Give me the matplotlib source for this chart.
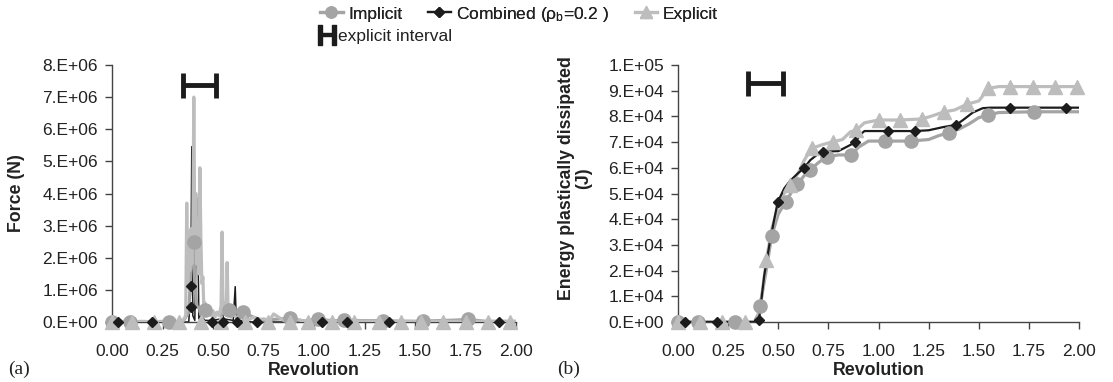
import matplotlib
matplotlib.use("Agg")
import matplotlib.pyplot as plt
from matplotlib.lines import Line2D

plt.rcParams['font.family'] = ['Liberation Sans', 'DejaVu Sans']
plt.rcParams['mathtext.fontset'] = 'custom'
plt.rcParams['mathtext.rm'] = 'Liberation Sans'
plt.rcParams['mathtext.it'] = 'Liberation Sans'
plt.rcParams['mathtext.bf'] = 'Liberation Sans:bold'

# ---------------- data (a): force, in 1e6 N ----------------
exp_f_x = [0.00, 0.05, 0.10, 0.15, 0.20, 0.25, 0.30, 0.35, 0.365, 0.37, 0.375, 0.38,
           0.385, 0.39, 0.395, 0.40, 0.405, 0.41, 0.415, 0.42, 0.425, 0.43, 0.435,
           0.44, 0.445, 0.45, 0.455, 0.46, 0.47, 0.48, 0.49, 0.50, 0.51, 0.52, 0.53,
           0.54, 0.545, 0.55, 0.56, 0.565, 0.57, 0.575, 0.58, 0.59, 0.60, 0.62, 0.65,
           0.68, 0.70, 0.72, 0.75, 0.78, 0.80, 0.85, 0.90, 0.95, 1.00, 1.10, 1.20,
           1.40, 1.60, 1.80, 2.00]
exp_f_y = [0.00, 0.02, 0.01, 0.02, 0.01, 0.02, 0.01, 0.03, 0.20, 3.70, 1.20, 2.80,
           1.60, 2.90, 1.80, 2.60, 7.00, 2.40, 4.00, 1.80, 2.60, 1.50, 4.80,
           2.60, 1.20, 1.40, 0.30, 0.60, 0.25, 0.45, 0.20, 0.35, 0.15, 0.30, 0.20,
           0.50, 2.80, 0.30, 0.60, 0.20, 1.85, 0.30, 0.40, 0.15, 0.25, 0.10, 0.20,
           0.08, 0.15, 0.05, 0.10, 0.05, 0.25, 0.05, 0.10, 0.03, 0.06, 0.02, 0.03,
           0.02, 0.02, 0.02, 0.02]
imp_f_x = [0.00, 0.35, 0.38, 0.39, 0.40, 0.405, 0.41, 0.42, 0.45, 0.46, 0.48, 0.50,
           0.52, 0.55, 0.58, 0.60, 0.65, 0.70, 0.75, 0.80, 0.88, 0.95, 1.02, 1.10,
           1.15, 1.30, 1.50, 1.70, 1.76, 1.85, 2.00]
imp_f_y = [0.00, 0.00, 0.30, 1.50, 2.40, 2.50, 1.20, 0.50, 0.30, 0.37, 0.30, 0.20,
           0.30, 0.25, 0.37, 0.30, 0.30, 0.15, 0.05, 0.08, 0.12, 0.03, 0.08, 0.04,
           0.05, 0.04, 0.02, 0.06, 0.08, 0.02, 0.02]
com_f_x = [0.00, 0.38, 0.385, 0.39, 0.395, 0.40, 0.41, 0.42, 0.425, 0.43, 0.44,
           0.46, 0.50, 0.54, 0.545, 0.55, 0.60, 0.61, 0.615, 0.65, 0.70, 2.00]
com_f_y = [0.00, 0.00, 0.50, 1.10, 5.46, 0.20, 0.05, 3.86, 2.70, 0.10, 0.20,
           0.05, 0.05, 0.10, 2.27, 0.10, 0.05, 1.10, 0.05, 0.03, 0.00, 0.00]

# marker points (a)
imp_fm_x = [0.00, 0.09, 0.28, 0.405, 0.46, 0.58, 0.65, 0.88, 1.02, 1.15, 1.34, 1.54, 1.76]
imp_fm_y = [0.00, 0.00, 0.00, 2.50, 0.37, 0.37, 0.30, 0.12, 0.08, 0.05, 0.03, 0.02, 0.08]
com_fm_x = [0.03, 0.196, 0.393, 0.393, 0.493, 0.55, 0.617, 0.716, 1.04, 1.165, 1.373, 1.917]
com_fm_y = [0.00, 0.00, 1.12, 0.48, 0.00, 0.00, 0.00, 0.00, 0.00, 0.00, 0.00, 0.00]
exp_fm_x = [0.00, 0.10, 0.21, 0.33, 0.44, 0.54, 0.66, 0.77, 0.88, 0.97, 1.09, 1.20,
            1.32, 1.43, 1.53, 1.64, 1.75, 1.86, 1.97]
exp_fm_y = [0.0] * len(exp_fm_x)

# ---------------- data (b): energy, in 1e3 J ----------------
imp_e_x = [0.00, 0.38, 0.40, 0.409, 0.44, 0.467, 0.50, 0.537, 0.57, 0.595, 0.63, 0.658,
           0.70, 0.742, 0.80, 0.863, 0.90, 0.95, 1.032, 1.16, 1.25, 1.30, 1.353, 1.40,
           1.45, 1.50, 1.544, 1.60, 1.777, 2.00]
imp_e_y = [0.0, 0.0, 3.0, 6.3, 20.0, 33.5, 42.0, 46.8, 51.0, 53.6, 57.0, 59.1,
           62.0, 64.3, 65.0, 65.0, 68.0, 70.4, 70.4, 70.4, 71.0, 72.5, 73.7, 75.0,
           77.0, 79.5, 80.5, 81.5, 81.8, 81.8]
com_e_x = [0.00, 0.40, 0.404, 0.43, 0.46, 0.497, 0.53, 0.56, 0.60, 0.628, 0.66, 0.70,
           0.725, 0.80, 0.85, 0.883, 0.91, 0.93, 1.049, 1.182, 1.25, 1.32, 1.387, 1.42,
           1.47, 1.52, 1.56, 1.656, 1.935, 2.00]
com_e_y = [0.0, 0.0, 0.7, 18.0, 32.0, 46.6, 52.0, 55.0, 58.0, 59.8, 63.0, 65.5,
           66.3, 66.5, 68.5, 69.9, 73.0, 74.3, 74.3, 74.3, 74.6, 75.8, 76.7, 78.5,
           81.5, 83.2, 83.4, 83.4, 83.4, 83.4]
exp_e_x = [0.00, 0.39, 0.41, 0.44, 0.47, 0.50, 0.52, 0.559, 0.60, 0.63, 0.667, 0.72,
           0.775, 0.82, 0.86, 0.89, 0.93, 1.00, 1.107, 1.215, 1.26, 1.328, 1.38, 1.44,
           1.50, 1.53, 1.548, 1.60, 2.00]
exp_e_y = [0.0, 0.0, 5.0, 24.0, 37.0, 45.0, 49.0, 53.3, 58.0, 63.0, 67.6, 69.0,
           70.2, 71.0, 74.0, 74.7, 77.5, 78.6, 78.6, 79.0, 80.0, 81.8, 82.5, 84.7,
           86.0, 89.0, 90.9, 91.6, 91.6]

imp_em_x = [0.00, 0.10, 0.284, 0.409, 0.467, 0.537, 0.595, 0.658, 0.742, 0.863,
            1.032, 1.16, 1.353, 1.544, 1.777]
imp_em_y = [0.0, 0.0, 0.0, 6.3, 33.5, 46.8, 53.6, 59.1, 64.3, 65.0,
            70.4, 70.4, 73.7, 80.5, 81.8]
com_em_x = [0.035, 0.193, 0.404, 0.497, 0.628, 0.725, 0.883, 1.049, 1.182, 1.387, 1.656, 1.935]
com_em_y = [0.0, 0.0, 0.7, 46.6, 59.8, 66.3, 69.9, 74.3, 74.3, 76.7, 83.4, 83.4]
exp_em_x = [0.00, 0.11, 0.218, 0.334, 0.44, 0.559, 0.667, 0.775, 0.89, 1.00, 1.107,
            1.215, 1.328, 1.44, 1.548, 1.656, 1.77, 1.88, 1.99]
exp_em_y = [0.0, 0.0, 0.0, 0.0, 24.0, 53.3, 67.6, 70.2, 74.7, 78.6, 78.6,
            79.0, 81.8, 84.7, 90.9, 91.6, 91.6, 91.6, 91.6]

# explicit interval (start rev, end rev, height)
interval_f = (0.35, 0.515, 7.38)
interval_e = (0.35, 0.525, 93.0)

x_ticks = [0.00, 0.25, 0.50, 0.75, 1.00, 1.25, 1.50, 1.75, 2.00]
f_ticks = [0, 1, 2, 3, 4, 5, 6, 7, 8]
f_labels = ['0.E+00', '1.E+06', '2.E+06', '3.E+06', '4.E+06',
            '5.E+06', '6.E+06', '7.E+06', '8.E+06']
e_ticks = [0, 10, 20, 30, 40, 50, 60, 70, 80, 90, 100]
e_labels = ['0.E+00', '1.E+04', '2.E+04', '3.E+04', '4.E+04', '5.E+04',
            '6.E+04', '7.E+04', '8.E+04', '9.E+04', '1.E+05']

c_imp = '#a4a4a4'
c_com = '#1c1c1c'
c_exp = '#bdbdbd'
txt = '#222222'
fs_tick = 12.5
fs_lab = 12.8

fig = plt.figure(figsize=(11.13, 3.82), dpi=100)
ax1 = fig.add_axes([112 / 1113, 60 / 382, 404 / 1113, 257 / 382])
ax2 = fig.add_axes([678 / 1113, 60 / 382, 401 / 1113, 257 / 382])


def draw(ax, ex, ey, ix, iy, cx, cy, exm, eym, ixm, iym, cxm, cym, interval, com_lw, com_z):
    ax.plot(ex, ey, color=c_exp, lw=2.3, zorder=3)
    ax.plot(ix, iy, color=c_imp, lw=2.3, zorder=2.5)
    ax.plot(cx, cy, color=c_com, lw=com_lw, zorder=com_z)
    ax.plot(exm, eym, ls='none', marker='^', ms=9.5, color=c_exp, zorder=5, clip_on=False)
    ax.plot(ixm, iym, ls='none', marker='o', ms=9.5, color=c_imp, zorder=4.5, clip_on=False)
    ax.plot(cxm, cym, ls='none', marker='D', ms=5, color=c_com, zorder=6, clip_on=False)
    lo, hi, yv = interval
    ax.errorbar([(lo + hi) / 2], [yv], xerr=[(hi - lo) / 2], fmt='none',
                ecolor=c_com, elinewidth=3.5, capsize=9, capthick=3.5, zorder=7)
    ax.set_xlim(0, 2)
    ax.set_xticks(x_ticks)
    ax.set_xticklabels(['%.2f' % v for v in x_ticks])
    for s in ['top', 'right']:
        ax.spines[s].set_visible(False)
    for s in ['left', 'bottom']:
        ax.spines[s].set_color('#444444')
        ax.spines[s].set_linewidth(1.0)
    ax.tick_params(axis='both', direction='out', length=5, width=1.0, color='#444444',
                   labelsize=fs_tick, labelcolor=txt, pad=5)
    ax.tick_params(axis='x', pad=11)
    ax.set_xlabel('Revolution', fontsize=fs_lab, fontweight='bold', color=txt, labelpad=2)


draw(ax1, exp_f_x, exp_f_y, imp_f_x, imp_f_y, com_f_x, com_f_y,
     exp_fm_x, exp_fm_y, imp_fm_x, imp_fm_y, com_fm_x, com_fm_y, interval_f, 1.1, 2)
ax1.set_ylim(0, 8)
ax1.set_yticks(f_ticks)
ax1.set_yticklabels(f_labels)
ax1.set_ylabel('Force (N)', fontsize=fs_lab, fontweight='bold', color=txt)
ax1.yaxis.set_label_coords(-0.215, 0.5)

draw(ax2, exp_e_x, exp_e_y, imp_e_x, imp_e_y, com_e_x, com_e_y,
     exp_em_x, exp_em_y, imp_em_x, imp_em_y, com_em_x, com_em_y, interval_e, 1.6, 4)
ax2.set_ylim(0, 100)
ax2.set_yticks(e_ticks)
ax2.set_yticklabels(e_labels)
ax2.set_ylabel('Energy plastically dissipated\n(J)', fontsize=fs_lab, fontweight='bold',
               color=txt, linespacing=1.0)
ax2.yaxis.set_label_coords(-0.214, 0.56)

fig.text(8 / 1113, 1 - 369 / 382, '(a)', family='Liberation Serif', fontsize=14,
         color=txt, va='center')
fig.text(557 / 1113, 1 - 369 / 382, '(b)', family='Liberation Serif', fontsize=14,
         color=txt, va='center')

# legend: first row three series, second row the interval symbol
h_imp = Line2D([], [], color=c_imp, lw=2.3, marker='o', ms=8)
h_com = Line2D([], [], color=c_com, lw=1.6, marker='D', ms=5)
h_exp = Line2D([], [], color=c_exp, lw=2.3, marker='^', ms=8)
h_int = Line2D([], [], ls='none', marker=r'$\mathbf{H}$', ms=15, color=c_com)
leg1 = fig.legend([h_imp, h_com, h_exp],
                  ['Implicit', r'Combined ($\mathrm{\rho}_\mathrm{b}$=0.2 )', 'Explicit'],
                  loc='upper left', bbox_to_anchor=(308 / 1113, 1.02), ncol=3, frameon=False,
                  fontsize=12.5, handlelength=1.3, handletextpad=0.3, columnspacing=1.5,
                  borderpad=0.2, labelcolor=txt)
fig.legend([h_int], ['explicit interval'], loc='upper left',
           bbox_to_anchor=(306 / 1113, 0.955), frameon=False, fontsize=12.5,
           handlelength=1.0, handletextpad=0.15, borderpad=0.2, labelcolor=txt)
fig.add_artist(leg1)

fig.savefig('out.png', dpi=100)
